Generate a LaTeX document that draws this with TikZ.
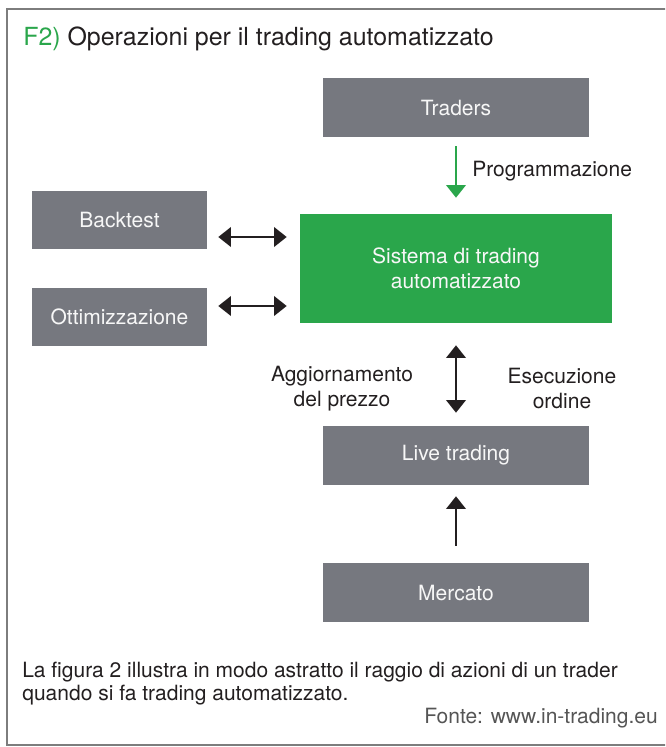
\documentclass[tikz,border=0pt]{standalone}
\usepackage{fontspec}
\setmainfont{TeX Gyre Heros}
\usepackage{xcolor}
\usetikzlibrary{arrows.meta, positioning, calc}

\definecolor{boxgray}{RGB}{118,120,127}
\definecolor{boxgreen}{RGB}{42,166,75}
\definecolor{inkdark}{RGB}{35,31,32}
\definecolor{framegray}{RGB}{125,125,125}
\definecolor{notegray}{RGB}{85,85,85}

\tikzset{
  blockbox/.style={fill=boxgray, text=white!94!gray, minimum width=199.5pt,
    minimum height=44.25pt, inner sep=0pt, font=\fontsize{15.75}{18.75}\selectfont},
  sidebox/.style={blockbox, minimum width=131.25pt, minimum height=43.5pt},
  corebox/.style={blockbox, fill=boxgreen, minimum width=234pt, minimum height=81.75pt, align=center},
  flowarrow/.style={-{Triangle[length=9.5pt, width=14.5pt]}, line width=2pt, inkdark},
  twoway/.style={flowarrow, {Triangle[length=9.5pt, width=14.5pt]}-{Triangle[length=9.5pt, width=14.5pt]}},
  sidelabel/.style={font=\fontsize{15.75}{18.75}\selectfont, text=inkdark, align=center, inner sep=0pt},
}

\begin{document}
\begin{tikzpicture}[x=0.75pt, y=-0.75pt]
  \useasboundingbox (0,0) rectangle (665,747);
  \clip (0,0) rectangle (665,747);
  \draw[framegray, line width=1.6pt] (7,9) rectangle (700,745);

  \node[anchor=base west, inner sep=0pt, font=\fontsize{18.7}{22}\selectfont, text=inkdark] (title) at (23,45)
    {\textcolor{boxgreen}{F2)} Operazioni per il trading automatizzato};

  % blocks
  \node[blockbox] (traders) at (456,107.5) {Traders};
  \node[corebox] (sistema) at (456,268.5) {Sistema di trading\\automatizzato};
  \node[sidebox] (backtest) at (119.5,220) {Backtest};
  \node[sidebox] (ottim) at (119.5,316.5) {Ottimizzazione};
  \node[blockbox] (live) at (456,455.5) {Live trading};
  \node[blockbox] (mercato) at (456,592.5) {Mercato};

  % connectors
  \draw[flowarrow, boxgreen, shorten <=6.75pt, shorten >=12pt] (traders.south) -- (sistema.north);
  \node[sidelabel, anchor=base west] (prog) at (472,176) {Programmazione};
  \draw[twoway, shorten <=8.25pt, shorten >=9.75pt]
    ([yshift=-12.75pt]backtest.east) -- ([yshift=-12.75pt]backtest.east -| sistema.west);
  \draw[twoway, shorten <=8.25pt, shorten >=9.75pt]
    ([yshift=7.875pt]ottim.east) -- ([yshift=7.875pt]ottim.east -| sistema.west);
  \draw[twoway, shorten <=16.5pt, shorten >=9.75pt] (sistema.south) -- (live.north);
  \node[sidelabel] (prezzo) at (342,389) {Aggiornamento\\del prezzo};
  \node[sidelabel] (ordine) at (562,388) {Esecuzione\\ordine};
  \draw[flowarrow, shorten <=12.75pt, shorten >=8.25pt] (mercato.north) -- (live.south);

  % caption
  \node[anchor=north west, inner sep=0pt, align=left, text=inkdark,
    font=\fontsize{15.75}{17.25}\selectfont] (caption) at (22,662)
    {La figura 2 illustra in modo astratto il raggio di azioni di un trader\\quando si fa trading automatizzato.};
  \node[anchor=base east, inner sep=0pt, text=notegray, font=\fontsize{15.75}{17.25}\selectfont] (fonte) at (658,723)
    {Fonte: www.in-trading.eu};
\end{tikzpicture}
\end{document}
